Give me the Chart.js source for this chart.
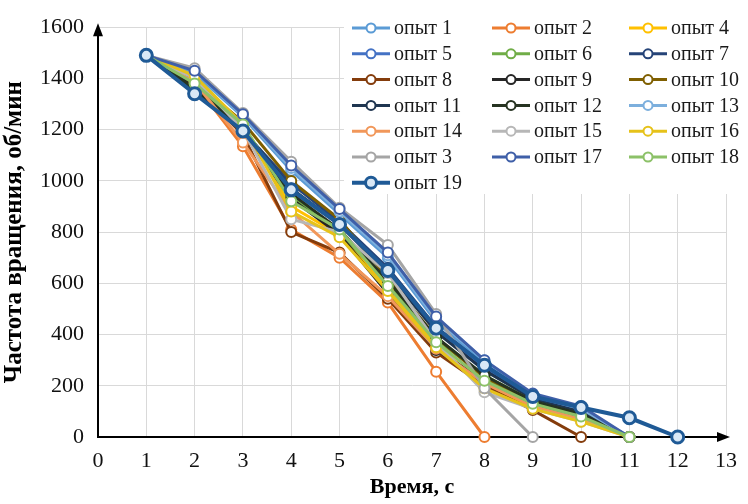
<!DOCTYPE html>
<html>
<head>
<meta charset="utf-8">
<script src="https://cdn.jsdelivr.net/npm/chart.js@4"></script>
<style>
  html, body { margin: 0; padding: 0; background: #fff; }
  #wrap { width: 748px; height: 504px; }
</style>
</head>
<body>
<div id="wrap"><canvas id="speedChart" width="748" height="504"></canvas></div>
<script>
  // time, s
  const times = [1, 2, 3, 4, 5, 6, 7, 8, 9, 10, 11, 12];

  // rotation speed, rpm (legend order as in the source)
  const run1  = [1490, 1420, 1250, 1040, 870, 700, 450, 290, 150, 100, 0];
  const run2  = [1490, 1380, 1135, 810, 700, 525, 255, 0];
  const run4  = [1490, 1400, 1210, 900, 790, 580, 360, 200, 120, 70, 0];
  const run5  = [1490, 1360, 1200, 960, 830, 650, 420, 270, 150, 100, 0];
  const run6  = [1490, 1370, 1210, 940, 800, 600, 380, 240, 140, 90, 0];
  const run7  = [1490, 1350, 1195, 990, 840, 660, 430, 280, 160, 110, 0];
  const run8  = [1490, 1370, 1180, 800, 720, 540, 330, 200, 105, 0];
  const run9  = [1490, 1365, 1190, 930, 790, 560, 340, 220, 130, 80, 0];
  const run10 = [1490, 1390, 1230, 1000, 850, 620, 390, 230, 130, 80, 0];
  const run11 = [1490, 1345, 1200, 970, 830, 640, 410, 260, 150, 100, 0];
  const run12 = [1490, 1360, 1205, 950, 810, 610, 390, 240, 140, 90, 0];
  const run13 = [1490, 1430, 1255, 1050, 880, 710, 460, 300, 160, 110, 0];
  const run14 = [1490, 1385, 1150, 880, 715, 550, 345, 210, 120, 70, 0];
  const run15 = [1490, 1400, 1200, 850, 800, 640, 370, 175, 110, 60, 0];
  const run16 = [1490, 1410, 1220, 880, 780, 570, 350, 190, 110, 60, 0];
  const run3  = [1490, 1440, 1265, 1075, 895, 750, 480, 190, 0];
  const run17 = [1490, 1430, 1260, 1060, 890, 720, 470, 300, 170, 120, 0];
  const run18 = [1490, 1380, 1220, 920, 810, 590, 370, 220, 130, 80, 0];
  const run19 = [1490, 1340, 1195, 965, 830, 650, 425, 280, 158, 115, 75, 0];

  const runNames = ['опыт 1', 'опыт 2', 'опыт 4', 'опыт 5', 'опыт 6', 'опыт 7',
    'опыт 8', 'опыт 9', 'опыт 10', 'опыт 11', 'опыт 12', 'опыт 13',
    'опыт 14', 'опыт 15', 'опыт 16', 'опыт 3', 'опыт 17', 'опыт 18', 'опыт 19'];
  const runValues = [run1, run2, run4, run5, run6, run7, run8, run9, run10, run11,
    run12, run13, run14, run15, run16, run3, run17, run18, run19];
  const runColors = ['#5b9bd5', '#ed7d31', '#ffc000', '#4472c4', '#70ad47', '#264478',
    '#843c0c', '#262626', '#7f5f00', '#1f3550', '#263321', '#7cafdd',
    '#f1975a', '#b7b7b7', '#e6c21a', '#a5a5a5', '#3f5fa8', '#8cc168', '#1f5a96'];

  const serif = "'Liberation Serif', 'Times New Roman', serif";

  const datasets = runValues.map((vals, i) => {
    const last = i === runValues.length - 1;
    return {
      label: runNames[i],
      data: vals.map((v, j) => ({ x: times[j], y: v })),
      borderColor: runColors[i],
      backgroundColor: last ? '#d9e8f6' : '#ffffff',
      pointBorderColor: runColors[i],
      borderWidth: last ? 4 : 3,
      pointRadius: last ? 6 : 5,
      pointBorderWidth: last ? 3 : 2,
      pointBackgroundColor: last ? '#d9e8f6' : '#ffffff',
      tension: 0,
      clip: false,
      order: runValues.length - i
    };
  });

  // legend in three columns over the top right of the plot
  const legendBox = {
    id: 'legendBox',
    afterDatasetsDraw(chart) {
      const ctx = chart.ctx;
      const colX = [352, 492, 629];
      const rowY = 28, rowH = 25.8;
      ctx.save();
      ctx.fillStyle = '#ffffff';
      ctx.fillRect(344, 8, 402, 186);
      ctx.font = '20px ' + serif;
      ctx.textBaseline = 'middle';
      runNames.forEach((name, i) => {
        const ds = chart.data.datasets[i];
        const x = colX[i % 3];
        const y = rowY + Math.floor(i / 3) * rowH;
        ctx.strokeStyle = ds.borderColor;
        ctx.lineWidth = ds.borderWidth;
        ctx.beginPath();
        ctx.moveTo(x, y);
        ctx.lineTo(x + 38, y);
        ctx.stroke();
        ctx.beginPath();
        ctx.arc(x + 19, y, ds.pointRadius - 0.5, 0, Math.PI * 2);
        ctx.fillStyle = ds.pointBackgroundColor;
        ctx.fill();
        ctx.lineWidth = ds.pointBorderWidth;
        ctx.stroke();
        ctx.fillStyle = '#1a1a1a';
        ctx.fillText(name, x + 42, y + 1);
      });
      ctx.restore();
    }
  };

  // arrowheads on the axes
  const axisArrows = {
    id: 'axisArrows',
    afterDraw(chart) {
      const { left, right, top, bottom } = chart.chartArea;
      const ctx = chart.ctx;
      ctx.save();
      ctx.fillStyle = '#000';
      ctx.beginPath();
      ctx.moveTo(left, top - 4);
      ctx.lineTo(left - 5, top + 9);
      ctx.lineTo(left + 5, top + 9);
      ctx.closePath();
      ctx.fill();
      ctx.beginPath();
      ctx.moveTo(right + 4, bottom);
      ctx.lineTo(right - 9, bottom - 5);
      ctx.lineTo(right - 9, bottom + 5);
      ctx.closePath();
      ctx.fill();
      ctx.restore();
    }
  };

  const ctx = document.getElementById('speedChart').getContext('2d');
  new Chart(ctx, {
    type: 'line',
    data: { datasets: datasets },
    options: {
      responsive: false,
      animation: false,
      layout: { padding: { top: 22, right: 11, left: 0, bottom: 0 } },
      plugins: {
        legend: { display: false },
        tooltip: { enabled: false }
      },
      scales: {
        x: {
          type: 'linear',
          min: 0,
          max: 13,
          ticks: { stepSize: 1, color: '#111', padding: 11, font: { family: serif, size: 22 } },
          grid: { color: '#d9d9d9', drawTicks: false },
          border: { color: '#000', width: 2 },
          title: {
            display: true,
            text: 'Время, с',
            color: '#000',
            padding: { top: 0, bottom: 3 },
            font: { family: serif, size: 22, weight: 'bold' }
          },
          afterFit: (s) => { s.height = 67; }
        },
        y: {
          min: 0,
          max: 1600,
          ticks: {
            stepSize: 200,
            color: '#111',
            padding: 14,
            font: { family: serif, size: 22 },
            callback: (v) => String(v)
          },
          grid: { color: '#d9d9d9', drawTicks: false },
          border: { color: '#000', width: 2 },
          title: {
            display: true,
            text: 'Частота вращения, об/мин',
            color: '#000',
            padding: { top: 0, bottom: 0 },
            font: { family: serif, size: 25, weight: 'bold' }
          },
          afterFit: (s) => { s.width = 98; }
        }
      }
    },
    plugins: [legendBox, axisArrows]
  });
</script>
</body>
</html>
